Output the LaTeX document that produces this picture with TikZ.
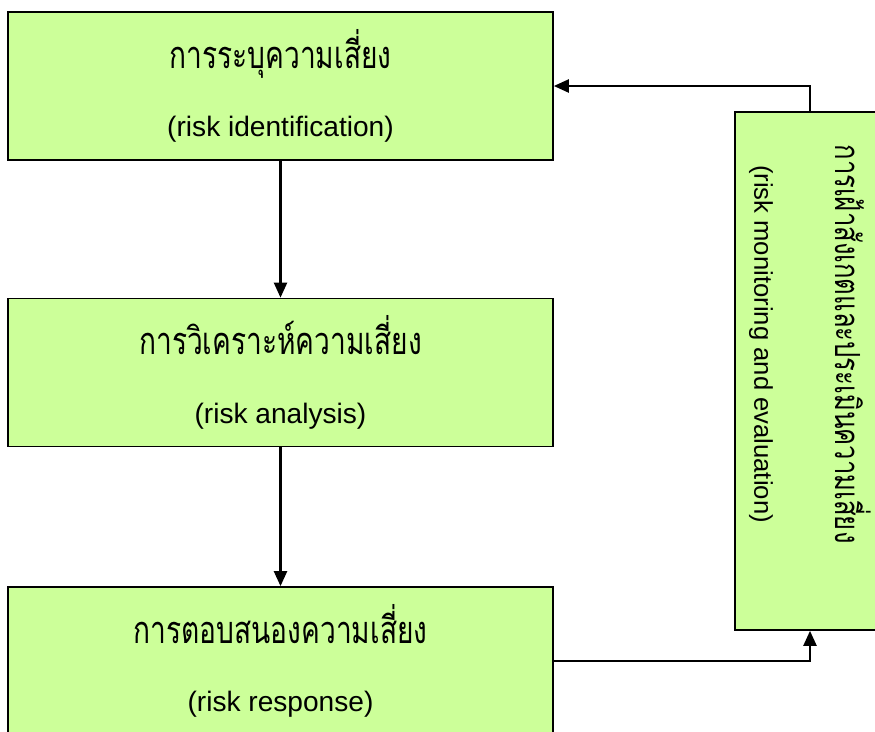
\documentclass[tikz,border=0pt]{standalone}
\usepackage{fontspec}
\setmainfont{Liberation Sans}
\newfontfamily\thaifont[Script=Thai]{Loma}
\usetikzlibrary{arrows.meta}
\definecolor{riskgreen}{HTML}{CCFF99}
\newcommand{\thaitext}[1]{\scalebox{1}[1.35]{\thaifont #1}}
\tikzset{
  riskbox/.style={draw=black, line width=1pt, fill=riskgreen, minimum width=10.9cm, minimum height=2.96cm, inner sep=0pt, align=center, font=\fontsize{16}{19}\selectfont},
  monbox/.style={draw=black, line width=1pt, fill=riskgreen, minimum width=3cm, minimum height=10.36cm, inner sep=0pt},
  flow/.style={line width=1.3pt, -{Triangle[length=3mm,width=2.6mm]}}
}
\begin{document}
\begin{tikzpicture}[x=0.02cm, y=-0.02cm]
			%%%%% START %%%%%
			\useasboundingbox (0, 0) rectangle (875, 731);
			
			\node[riskbox] (ident) at (280.5, 86) {\thaitext{การระบุความเสี่ยง}\\[20pt](risk identification)};
			\node[riskbox] (analy) at (280.5, 372.5) {\thaitext{การวิเคราะห์ความเสี่ยง}\\[20pt](risk analysis)};
			\node[riskbox] (resp) at (280.5, 661) {\thaitext{การตอบสนองความเสี่ยง}\\[20pt](risk response)};
			
			\node[monbox] (mon) at (810, 371) {};
			\node[rotate=-90, align=center, font=\fontsize{14.6}{18}\selectfont] (monlbl) at (810, 344) {\thaitext{การเฝ้าสังเกตและประเมินความเสี่ยง}\\[28pt](risk monitoring and evaluation)};
			
			\draw[flow] (ident) -- (analy);
			\draw[flow] (analy) -- (resp);
			\draw[flow] (resp.east) -| (mon.south);
			\draw[flow] (mon.north) |- (ident.east);
			
			%%%%% END %%%%%
\end{tikzpicture}
\end{document}
